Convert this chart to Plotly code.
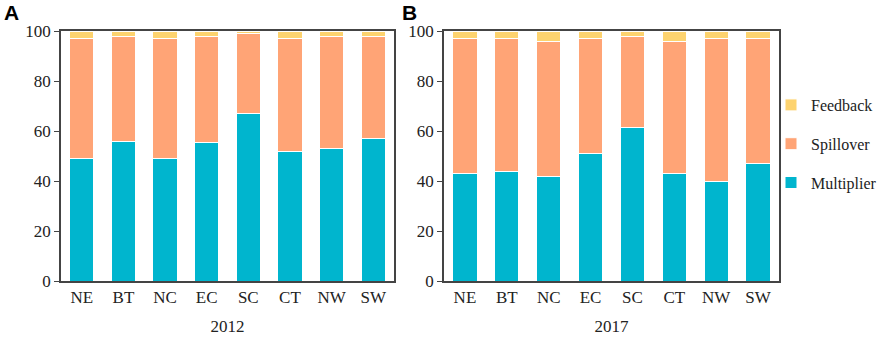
import plotly.graph_objects as go

regions = ["NE", "BT", "NC", "EC", "SC", "CT", "NW", "SW"]

# 2012 shares (%)
mult_2012 = [49, 56, 49, 55.5, 67, 52, 53, 57]
spill_2012 = [48, 42, 48, 42.5, 32, 45, 45, 41]
feed_2012 = [3, 2, 3, 2, 1, 3, 2, 2]

# 2017 shares (%)
mult_2017 = [43, 44, 42, 51, 61.5, 43, 40, 47]
spill_2017 = [54, 53, 54, 46, 36.5, 53, 57, 50]
feed_2017 = [3, 3, 4, 3, 2, 4, 3, 3]

years = ["2012", "2017"]
series_names = ["Multiplier", "Spillover", "Feedback"]
colors = {"Multiplier": "#00B5CE", "Spillover": "#FFA476", "Feedback": "#FDD36F"}
ranks = {"Feedback": 1, "Spillover": 2, "Multiplier": 3}

data = {
    "2012": {"Multiplier": mult_2012, "Spillover": spill_2012, "Feedback": feed_2012},
    "2017": {"Multiplier": mult_2017, "Spillover": spill_2017, "Feedback": feed_2017},
}

fig = go.Figure()
for i, yr in enumerate(years):
    xa = "x" if i == 0 else "x2"
    ya = "y" if i == 0 else "y2"
    for name in series_names:
        fig.add_trace(go.Bar(
            x=regions, y=data[yr][name], name=name,
            marker=dict(color=colors[name], line=dict(color="white", width=1)),
            xaxis=xa, yaxis=ya, showlegend=(i == 1), legendgroup=name,
            legendrank=ranks[name],
        ))

W, H = 879, 340
ydom = [(H - 281) / H, (H - 31) / H]
font = dict(family="Liberation Serif", size=17, color="#222")

axis_common = dict(showline=True, linecolor="#444", linewidth=1.5, mirror=True,
                   showgrid=False, zeroline=False, automargin=False)

fig.update_layout(
    width=W, height=H,
    margin=dict(l=0, r=0, t=0, b=0, autoexpand=False),
    plot_bgcolor="white", paper_bgcolor="white",
    barmode="stack", bargap=0.42,
    font=font,
    xaxis=dict(domain=[61 / W, 394 / W], anchor="y", range=[-0.5, 7.5],
               title=dict(text="2012", standoff=14, font=font), ticks="",
               tickfont=font, **axis_common),
    yaxis=dict(domain=ydom, anchor="x", range=[0, 100], dtick=20, ticks="outside",
               ticklen=5, tickcolor="#444", tickwidth=1, tickfont=font, **axis_common),
    xaxis2=dict(domain=[444 / W, 779 / W], anchor="y2", range=[-0.5, 7.5],
                title=dict(text="2017", standoff=14, font=font), ticks="",
                tickfont=font, **axis_common),
    yaxis2=dict(domain=ydom, anchor="x2", range=[0, 100], dtick=20, ticks="outside",
                ticklen=5, tickcolor="#444", tickwidth=1, tickfont=font, **axis_common),
    legend=dict(x=771 / W, y=1 - 88 / H, xanchor="left", yanchor="top",
                traceorder="grouped", tracegroupgap=15,
                font=dict(family="Liberation Serif", size=16, color="#222"),
                itemwidth=30, bgcolor="rgba(0,0,0,0)"),
    annotations=[
        dict(text="<b>A</b>", x=2 / W, y=1 - 13 / H, xref="paper", yref="paper",
             xanchor="left", yanchor="middle", showarrow=False,
             font=dict(family="Liberation Sans", size=21, color="black")),
        dict(text="<b>B</b>", x=400 / W, y=1 - 13 / H, xref="paper", yref="paper",
             xanchor="left", yanchor="middle", showarrow=False,
             font=dict(family="Liberation Sans", size=21, color="black")),
    ],
)

fig.write_html("out.html", config={"displayModeBar": False},
               post_script="document.body.style.margin='0';document.body.style.overflow='hidden';")
